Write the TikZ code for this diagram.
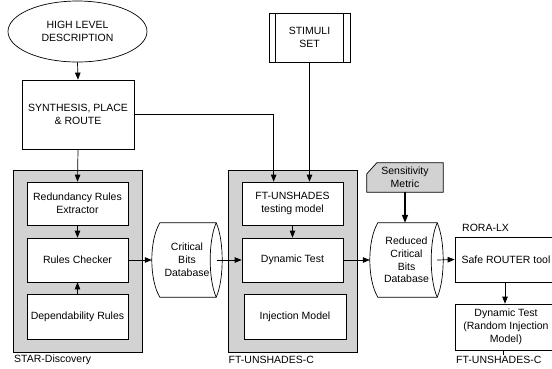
\documentclass[tikz,border=0pt]{standalone}
\usepackage{fontspec}
\setmainfont{Liberation Sans}
\usetikzlibrary{shapes.geometric,arrows.meta,calc,backgrounds}
\newcommand\dbdraw[1]{%
  \draw[line width=0.7pt, fill=white] ($(#1.north west)+(8,0)$) -- ($(#1.north east)+(-6,0)$)
    .. controls ($(#1.north east)+(2,18)$) and ($(#1.south east)+(2,-18)$) .. ($(#1.south east)+(-6,0)$)
    -- ($(#1.south west)+(8,0)$)
    .. controls ($(#1.south west)+(-2.67,-18)$) and ($(#1.north west)+(-2.67,18)$) .. cycle;
  \draw[line width=0.7pt] ($(#1.north east)+(-6,0)$)
    .. controls ($(#1.north east)+(-14,18)$) and ($(#1.south east)+(-14,-18)$) .. ($(#1.south east)+(-6,0)$);
}
\begin{document}
\begin{tikzpicture}[x=1pt,y=-1pt, font=\fontsize{10.5}{12.8}\selectfont,
  box/.style={draw, fill=white, line width=0.7pt, inner sep=1pt, align=center},
  cont/.style={draw, fill=gray!35, line width=0.7pt, inner sep=0pt},
  plain/.style={draw=none, inner sep=0pt, align=center},
  arr/.style={-{Triangle[length=7pt,width=5.5pt]}, line width=0.7pt},
  lbl/.style={anchor=west, inner sep=0pt}]
\useasboundingbox (0,0) rectangle (552,368);

% containers
\node[cont, minimum width=129pt, minimum height=182pt] (star) at (77.5,261) {};
\node[cont, minimum width=129pt, minimum height=182pt] (ftc) at (292.5,261) {};

% top elements
\node[draw, ellipse, line width=0.7pt, minimum width=139pt, minimum height=61pt, inner sep=0pt, align=center] (hld) at (77.5,31.5) {HIGH LEVEL\\DESCRIPTION};
\node[box, minimum width=112pt, minimum height=69pt] (synth) at (78,114.5) {SYNTHESIS, PLACE\\\& ROUTE};
\node[box, minimum width=81pt, minimum height=49pt] (stim) at (309.5,37.5) {STIMULI\\SET};
\draw[line width=0.7pt] ($(stim.north west)+(7,0)$) -- ($(stim.south west)+(7,0)$);
\draw[line width=0.7pt] ($(stim.north east)+(-7,0)$) -- ($(stim.south east)+(-7,0)$);

% STAR-Discovery boxes
\node[box, minimum width=101pt, minimum height=43pt] (red) at (77.5,203.5) {Redundancy Rules\\Extractor};
\node[box, minimum width=101pt, minimum height=44pt] (chk) at (77.5,260) {Rules Checker};
\node[box, minimum width=101pt, minimum height=45pt] (dep) at (77.5,316.5) {Dependability Rules};

% FT-UNSHADES boxes
\node[box, minimum width=101pt, minimum height=43pt] (test) at (292.5,203.5) {FT-UNSHADES\\testing model};
\node[box, minimum width=101pt, minimum height=44pt] (dyn) at (292.5,260) {Dynamic Test};
\node[box, minimum width=102pt, minimum height=45pt] (inj) at (295,316.5) {Injection Model};

% databases
\node[plain, minimum width=70pt, minimum height=74pt] (crit) at (187,260) {Critical\\Bits\\Database};
\node[plain, minimum width=73pt, minimum height=74pt] (rcb) at (406.5,260) {Reduced\\Critical\\Bits\\Database};
\node[plain, minimum width=76pt, minimum height=29pt] (sens) at (405,177.5) {Sensitivity\\Metric};
\begin{scope}[on background layer]
  \dbdraw{crit}
  \dbdraw{rcb}
  \draw[line width=0.7pt, fill=gray!35] ($(sens.north west)+(10,0)$) -- (sens.north east) -- (sens.south east) -- (sens.south west) -- ($(sens.north west)+(0,11)$) -- cycle;
\end{scope}

% right column
\node[box, minimum width=102pt, minimum height=45pt] (safe) at (506,259.5) {Safe ROUTER tool};
\node[box, minimum width=102pt, minimum height=46pt] (dyn2) at (506,327) {Dynamic Test\\(Random Injection\\Model)};

% labels
\node[lbl] (lstar) at (14,360) {STAR-Discovery};
\node[lbl] (lftc) at (228.5,360) {FT-UNSHADES-C};
\node[lbl] (lftc2) at (456,360) {FT-UNSHADES-C};
\node[lbl] (lrora) at (462,228) {RORA-LX};

% connectors
\draw[arr] (hld.south) -- (synth.north);
\draw[arr] (synth.east) -| ($(test.north west)+(32,0)$);
\draw[arr] (stim.south) -- (stim.south |- test.north);
\draw[arr] (synth.south) -- (red.north);
\draw[arr] (red.south) -- (chk.north);
\draw[arr] (dep.north) -- (chk.south);
\draw[arr] (chk.east) -- (crit.west);
\draw[arr] ($(crit.east)+(-5,0)$) -- (dyn.west);
\draw[arr] (test.south) -- (dyn.north);
\draw[arr] (dyn.east) -- (rcb.west);
\draw[-{Triangle[length=8pt,width=6pt]}, line width=1.4pt] (sens.south) -- (sens.south |- rcb.north);
\draw[arr] ($(rcb.east)+(-6,0)$) -- (safe.west);
\draw[arr] ($(safe.south)+(-1,0)$) -- ($(dyn2.north)+(-1,0)$);
\coordinate (tickend) at ($(dyn2.south)+(-3,5)$);
\draw[line width=0.7pt] ($(dyn2.south)+(-3,0)$) -- (tickend);
\end{tikzpicture}
\end{document}
